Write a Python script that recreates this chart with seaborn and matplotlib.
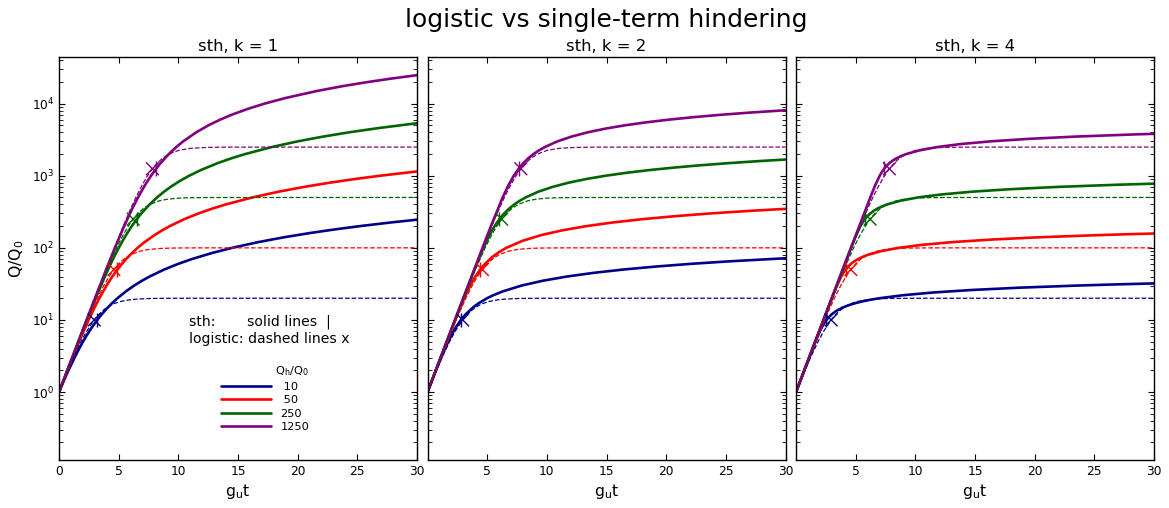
import matplotlib
matplotlib.use("Agg")
import matplotlib.pyplot as plt
import numpy as np
import pandas as pd
import seaborn as sns
from matplotlib.lines import Line2D

# ---------------- data ----------------
QH = [10, 50, 250, 1250]
QH_LABELS = [" 10", " 50", "250", "1250"]
K_VALUES = [1, 2, 4]
COLORS = ["#00008B", "#FF0000", "#006400", "#800080"]
X_TICKS = [0, 5, 10, 15, 20, 25, 30]

# logistic curves (same in every panel)
LOG_T_10 = [0, 0.747, 1.210, 1.846, 2.325, 2.944, 3.350, 3.792, 4.331, 4.679, 5.142, 5.889, 6.608, 7.540, 8.238, 8.933, 10.545, 30]
LOG_Q_10 = [1, 2, 3, 5, 7, 10, 12, 14, 16, 17, 18, 19, 19.5, 19.8, 19.9, 19.95, 19.99, 20]
LOG_T_50 = [0, 0.703, 1.651, 2.398, 3.209, 3.748, 4.190, 4.595, 5.000, 5.442, 5.981, 6.792, 7.540, 8.487, 9.190, 9.888, 11.502, 30]
LOG_Q_50 = [1, 2, 5, 10, 20, 30, 40, 50, 60, 70, 80, 90, 95, 98, 99, 99.5, 99.9, 100]
LOG_T_250 = [0, 0.695, 1.617, 2.321, 3.035, 4.015, 4.826, 5.365, 5.807, 6.213, 6.618, 7.060, 7.599, 8.410, 9.157, 10.104, 10.808, 12.425, 30]
LOG_Q_250 = [1, 2, 5, 10, 20, 50, 100, 150, 200, 250, 300, 350, 400, 450, 475, 490, 495, 499, 500]
LOG_T_1250 = [0, 0.694, 1.611, 2.306, 3.003, 3.932, 4.646, 5.381, 6.008, 6.437, 6.976, 7.418, 7.824, 8.229, 8.671, 9.210, 10.021, 11.002, 12.419, 14.036, 30]
LOG_Q_1250 = [1, 2, 5, 10, 20, 50, 100, 200, 350, 500, 750, 1000, 1250, 1500, 1750, 2000, 2250, 2400, 2475, 2495, 2500]

# sth, k = 1
S1_T_10 = [0, 0.455, 0.793, 1.299, 1.686, 2.009, 2.292, 2.546, 2.779, 3.203, 3.585, 3.939, 4.433, 4.896, 5.619, 6.301, 6.955, 7.589, 8.812, 9.994, 11.148, 12.843, 14.505, 16.687, 18.842, 20.975, 23.093, 25.198, 27.816, 30]
S1_Q_10 = [1, 1.5, 2, 3, 4, 5, 6, 7, 8, 10, 12, 14, 17, 20, 25, 30, 35, 40, 50, 60, 70, 85, 100, 120, 140, 160, 180, 200, 225, 245.8]
S1_T_50 = [0, 0.713, 1.139, 1.689, 2.066, 2.483, 2.988, 3.376, 3.981, 4.469, 4.892, 5.274, 5.628, 6.123, 6.585, 7.167, 7.991, 8.645, 9.278, 10.501, 11.684, 12.838, 13.971, 16.195, 18.377, 20.531, 22.665, 24.782, 26.888, 30]
S1_Q_50 = [1, 2, 3, 5, 7, 10, 15, 20, 30, 40, 50, 60, 70, 85, 100, 120, 150, 175, 200, 250, 300, 350, 400, 500, 600, 700, 800, 900, 1000, 1148]
S1_T_250 = [0, 0.697, 1.625, 2.339, 3.072, 3.691, 4.108, 4.613, 5.001, 5.607, 6.094, 6.517, 6.900, 7.587, 8.211, 8.793, 9.347, 10.141, 10.904, 11.886, 13.309, 14.463, 15.597, 17.820, 20.002, 22.157, 24.290, 26.830, 30]
S1_Q_250 = [1, 2, 5, 10, 20, 35, 50, 75, 100, 150, 200, 250, 300, 400, 500, 600, 700, 850, 1000, 1200, 1500, 1750, 2000, 2500, 3000, 3500, 4000, 4600, 5355]
S1_T_1250 = [0, 0.694, 1.612, 2.310, 3.011, 3.951, 4.684, 5.457, 6.137, 6.614, 7.219, 7.707, 8.130, 8.512, 9.200, 9.823, 10.405, 11.493, 12.516, 13.499, 14.453, 15.847, 17.209, 18.992, 21.615, 23.769, 25.902, 28.020, 30]
S1_Q_1250 = [1, 2, 5, 10, 20, 50, 100, 200, 350, 500, 750, 1000, 1250, 1500, 2000, 2500, 3000, 4000, 5000, 6000, 7000, 8500, 10000, 12000, 15000, 17500, 20000, 22500, 24850]

# sth, k = 2
S2_T_10 = [0, 0.708, 1.139, 1.729, 2.186, 2.394, 2.798, 3.200, 3.828, 4.273, 4.991, 5.506, 6.339, 7.896, 9.675, 11.684, 13.927, 16.407, 19.127, 22.089, 25.294, 30]
S2_Q_10 = [1, 2, 3, 5, 7, 8, 10, 12, 15, 17, 20, 22, 25, 30, 35, 40, 45, 50, 55, 60, 65, 71.7]
S2_T_50 = [0, 0.694, 1.614, 2.323, 3.076, 3.581, 4.009, 4.412, 4.814, 5.442, 6.003, 6.605, 7.953, 9.511, 11.290, 13.298, 15.541, 18.021, 20.742, 23.704, 26.909, 30]
S2_Q_50 = [1, 2, 5, 10, 20, 30, 40, 50, 60, 75, 87.5, 100, 125, 150, 175, 200, 225, 250, 275, 300, 325, 347.5]
S2_T_250 = [0, 0.693, 1.609, 2.304, 2.999, 3.932, 4.685, 5.191, 5.618, 6.021, 6.424, 6.838, 7.271, 7.729, 8.215, 9.277, 10.471, 11.805, 13.282, 14.908, 16.683, 18.610, 20.690, 22.924, 25.313, 27.858, 30]
S2_Q_250 = [1, 2, 5, 10, 20, 50, 100, 150, 200, 250, 300, 350, 400, 450, 500, 600, 700, 800, 900, 1000, 1100, 1200, 1300, 1400, 1500, 1600, 1680]
S2_T_1250 = [0, 0.693, 1.609, 2.303, 2.996, 3.913, 4.608, 5.311, 6.295, 6.800, 7.228, 7.631, 8.033, 8.447, 8.881, 9.339, 9.824, 10.886, 12.081, 13.414, 14.892, 16.517, 18.292, 20.220, 22.300, 24.534, 26.923, 29.467, 30]
S2_Q_1250 = [1, 2, 5, 10, 20, 50, 100, 200, 500, 750, 1000, 1250, 1500, 1750, 2000, 2250, 2500, 3000, 3500, 4000, 4500, 5000, 5500, 6000, 6500, 7000, 7500, 8000, 8101]

# sth, k = 4
S4_T_10 = [0, 0.693, 1.101, 1.625, 2.006, 2.182, 2.361, 2.553, 2.764, 3.003, 3.279, 3.599, 3.974, 4.411, 4.921, 5.514, 6.202, 6.996, 8.947, 11.472, 14.682, 18.698, 23.651, 26.522, 30]
S4_Q_10 = [1, 2, 3, 5, 7, 8, 9, 10, 11, 12, 13, 14, 15, 16, 17, 18, 19, 20, 22, 24, 26, 28, 30, 31, 32.1]
S4_T_50 = [0, 1.609, 2.303, 3.002, 3.433, 3.791, 3.971, 4.162, 4.373, 4.612, 4.888, 5.208, 5.583, 6.020, 7.124, 8.605, 10.556, 13.081, 16.292, 20.308, 25.261, 28.131, 30]
S4_Q_50 = [1, 5, 10, 20, 30, 40, 45, 50, 55, 60, 65, 70, 75, 80, 90, 100, 110, 120, 130, 140, 150, 155, 158.0]
S4_T_250 = [0, 2.303, 3.912, 4.611, 5.043, 5.400, 5.580, 5.771, 5.983, 6.222, 6.498, 6.818, 7.193, 7.629, 8.733, 10.215, 12.166, 14.691, 17.901, 21.917, 26.870, 30]
S4_Q_250 = [1, 10, 50, 100, 150, 200, 225, 250, 275, 300, 325, 350, 375, 400, 450, 500, 550, 600, 650, 700, 750, 777]
S4_T_1250 = [0, 2.303, 4.605, 6.221, 6.652, 7.010, 7.190, 7.381, 7.592, 7.831, 8.107, 8.427, 8.802, 9.239, 10.343, 11.824, 13.775, 16.300, 19.510, 23.527, 28.480, 30]
S4_Q_1250 = [1, 10, 100, 500, 750, 1000, 1125, 1250, 1375, 1500, 1625, 1750, 1875, 2000, 2250, 2500, 2750, 3000, 3250, 3500, 3750, 3817]

# marker positions (time where Q reaches Q_h)
LOGI_MARK_T = [2.944, 4.595, 6.213, 7.824]
STH_MARK_T_K1 = [3.203, 4.892, 6.517, 8.130]
STH_MARK_T_K2 = [2.798, 4.412, 6.021, 7.631]
STH_MARK_T_K4 = [2.553, 4.162, 5.771, 7.381]


def long_frame(ts, qs):
    parts = []
    for lab, t, q in zip(QH_LABELS, ts, qs):
        parts.append(pd.DataFrame({"t": t, "Q": q, "ratio": lab}))
    return pd.concat(parts, ignore_index=True)


logi_df = long_frame([LOG_T_10, LOG_T_50, LOG_T_250, LOG_T_1250],
                     [LOG_Q_10, LOG_Q_50, LOG_Q_250, LOG_Q_1250])
sth_dfs = [
    long_frame([S1_T_10, S1_T_50, S1_T_250, S1_T_1250], [S1_Q_10, S1_Q_50, S1_Q_250, S1_Q_1250]),
    long_frame([S2_T_10, S2_T_50, S2_T_250, S2_T_1250], [S2_Q_10, S2_Q_50, S2_Q_250, S2_Q_1250]),
    long_frame([S4_T_10, S4_T_50, S4_T_250, S4_T_1250], [S4_Q_10, S4_Q_50, S4_Q_250, S4_Q_1250]),
]
sth_marks = [STH_MARK_T_K1, STH_MARK_T_K2, STH_MARK_T_K4]
logi_mark_df = pd.DataFrame({"t": LOGI_MARK_T, "Q": QH, "ratio": QH_LABELS})

# ---------------- style ----------------
sns.set_style("white")
plt.rcParams.update({
    "font.family": ["DejaVu Sans"],
    "mathtext.fontset": "dejavusans",
    "text.color": "black", "axes.labelcolor": "black",
    "xtick.direction": "in", "ytick.direction": "in",
    "xtick.top": True, "ytick.right": True,
    "xtick.bottom": True, "ytick.left": True,
    "xtick.major.size": 4.5, "ytick.major.size": 4.5,
    "xtick.minor.size": 2.8, "ytick.minor.size": 2.8,
    "xtick.major.width": 0.8, "ytick.major.width": 0.8,
    "xtick.minor.width": 0.6, "ytick.minor.width": 0.6,
    "xtick.color": "black", "ytick.color": "black",
    "xtick.labelcolor": "black", "ytick.labelcolor": "black",
    "axes.edgecolor": "black", "axes.linewidth": 1.0,
    "xtick.labelsize": 8.8, "ytick.labelsize": 8.8,
    "lines.solid_joinstyle": "round",
})
palette = dict(zip(QH_LABELS, COLORS))

fig, axes = plt.subplots(1, 3, figsize=(11.69, 5.08), dpi=100, sharey=True)
fig.subplots_adjust(left=0.0505, right=0.9872, bottom=0.0945, top=0.8878, wspace=0.0293)

for i, (ax, k) in enumerate(zip(axes, K_VALUES)):
    ax.set_yscale("log")
    sns.lineplot(data=sth_dfs[i], x="t", y="Q", hue="ratio", hue_order=QH_LABELS,
                 palette=palette, estimator=None, sort=False, lw=1.9,
                 legend=False, ax=ax)
    sns.lineplot(data=logi_df, x="t", y="Q", hue="ratio", hue_order=QH_LABELS,
                 palette=palette, estimator=None, sort=False, lw=0.9, ls="--",
                 legend=False, ax=ax)
    sns.scatterplot(data=logi_mark_df, x="t", y="Q", hue="ratio", hue_order=QH_LABELS,
                    palette=palette, marker="x", s=85, linewidth=1.0,
                    legend=False, ax=ax, zorder=4)
    sm = pd.DataFrame({"t": sth_marks[i], "Q": QH, "ratio": QH_LABELS})
    sns.scatterplot(data=sm, x="t", y="Q", hue="ratio", hue_order=QH_LABELS,
                    palette=palette, marker="|", s=110, linewidth=1.0,
                    legend=False, ax=ax, zorder=4)
    ax.set_xlim(0, 30)
    ax.set_ylim(0.114, 44400)
    if i == 0:
        ax.set_xticks(X_TICKS)
    else:
        ax.set_xticks(X_TICKS[1:])
    ax.set_title(f"sth, k = {k}", fontsize=11.8, pad=4)
    ax.set_xlabel(r"g$_\mathrm{u}$t", fontsize=11.3, labelpad=3)
    ax.set_ylabel("")
    ax.tick_params(which="both", direction="in", top=True, right=True)

axes[0].set_ylabel(r"Q/Q$_0$", fontsize=11.3)

axes[0].text(0.363, 0.36, "sth:       solid lines  |\nlogistic: dashed lines x",
             transform=axes[0].transAxes, fontsize=10.1, ha="left", va="top")

handles = [Line2D([], [], color=c, lw=1.9) for c in COLORS]
axes[0].legend(handles, QH_LABELS, title=r"Q$_\mathrm{h}$/Q$_0$", frameon=False,
               fontsize=8.2, title_fontsize=8.2, handlelength=4.4, labelspacing=0.3,
               handletextpad=0.8, borderpad=0.4, loc="upper left",
               bbox_to_anchor=(0.424, 0.262), alignment="right")

fig.suptitle("logistic vs single-term hindering", fontsize=18, x=0.5188, y=0.985, va="top")

fig.savefig("out.png", dpi=100)
